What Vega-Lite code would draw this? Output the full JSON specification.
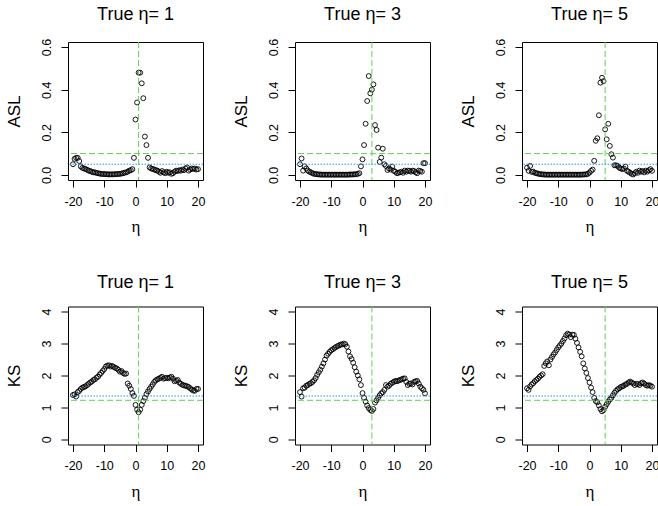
{
"$schema": "https://vega.github.io/schema/vega-lite/v6.json",
"padding": {"left": 4, "top": 5, "right": 0, "bottom": 4},
"background": "white",
"datasets": {
"d": [
{"t":1,"x":-20,"asl":0.05,"ks":1.39},{"t":1,"x":-19.5,"asl":0.075,"ks":1.41},{"t":1,"x":-19,"asl":0.08,"ks":1.34},{"t":1,"x":-18.5,"asl":0.08,"ks":1.48},{"t":1,"x":-18,"asl":0.065,"ks":1.52},{"t":1,"x":-17.5,"asl":0.04,"ks":1.58},{"t":1,"x":-17,"asl":0.033,"ks":1.62},{"t":1,"x":-16.5,"asl":0.03,"ks":1.64},{"t":1,"x":-16,"asl":0.028,"ks":1.66},{"t":1,"x":-15.5,"asl":0.024,"ks":1.70},{"t":1,"x":-15,"asl":0.02,"ks":1.74},{"t":1,"x":-14.5,"asl":0.018,"ks":1.78},{"t":1,"x":-14,"asl":0.015,"ks":1.81},{"t":1,"x":-13.5,"asl":0.012,"ks":1.86},{"t":1,"x":-13,"asl":0.012,"ks":1.88},{"t":1,"x":-12.5,"asl":0.009,"ks":1.93},{"t":1,"x":-12,"asl":0.008,"ks":1.96},{"t":1,"x":-11.5,"asl":0.006,"ks":2.03},{"t":1,"x":-11,"asl":0.005,"ks":2.08},{"t":1,"x":-10.5,"asl":0.004,"ks":2.14},{"t":1,"x":-10,"asl":0.004,"ks":2.20},{"t":1,"x":-9.5,"asl":0.003,"ks":2.28},{"t":1,"x":-9,"asl":0.003,"ks":2.31},{"t":1,"x":-8.5,"asl":0.002,"ks":2.32},{"t":1,"x":-8,"asl":0.003,"ks":2.28},{"t":1,"x":-7.5,"asl":0.002,"ks":2.30},{"t":1,"x":-7,"asl":0.003,"ks":2.27},{"t":1,"x":-6.5,"asl":0.003,"ks":2.24},{"t":1,"x":-6,"asl":0.004,"ks":2.22},{"t":1,"x":-5.5,"asl":0.004,"ks":2.18},{"t":1,"x":-5,"asl":0.005,"ks":2.12},{"t":1,"x":-4.5,"asl":0.006,"ks":2.14},{"t":1,"x":-4,"asl":0.008,"ks":2.08},{"t":1,"x":-3.5,"asl":0.01,"ks":2.05},{"t":1,"x":-3,"asl":0.012,"ks":2.06},{"t":1,"x":-2.5,"asl":0.015,"ks":1.75},{"t":1,"x":-2,"asl":0.02,"ks":1.68},{"t":1,"x":-1.5,"asl":0.022,"ks":1.58},{"t":1,"x":-1,"asl":0.027,"ks":1.45},{"t":1,"x":-0.5,"asl":0.08,"ks":1.36},{"t":1,"x":0,"asl":0.26,"ks":1.08},{"t":1,"x":0.5,"asl":0.34,"ks":0.93},{"t":1,"x":1,"asl":0.48,"ks":0.85},{"t":1,"x":1.5,"asl":0.48,"ks":0.93},{"t":1,"x":2,"asl":0.43,"ks":1.08},{"t":1,"x":2.5,"asl":0.36,"ks":1.20},{"t":1,"x":3,"asl":0.18,"ks":1.30},{"t":1,"x":3.5,"asl":0.14,"ks":1.42},{"t":1,"x":4,"asl":0.08,"ks":1.50},{"t":1,"x":4.5,"asl":0.035,"ks":1.58},{"t":1,"x":5,"asl":0.03,"ks":1.65},{"t":1,"x":5.5,"asl":0.028,"ks":1.72},{"t":1,"x":6,"asl":0.025,"ks":1.80},{"t":1,"x":6.5,"asl":0.022,"ks":1.85},{"t":1,"x":7,"asl":0.02,"ks":1.88},{"t":1,"x":7.5,"asl":0.015,"ks":1.90},{"t":1,"x":8,"asl":0.01,"ks":1.93},{"t":1,"x":8.5,"asl":0.018,"ks":1.96},{"t":1,"x":9,"asl":0.012,"ks":1.90},{"t":1,"x":9.5,"asl":0.008,"ks":1.92},{"t":1,"x":10,"asl":0.015,"ks":1.93},{"t":1,"x":10.5,"asl":0.01,"ks":1.91},{"t":1,"x":11,"asl":0.012,"ks":1.94},{"t":1,"x":11.5,"asl":0.005,"ks":1.96},{"t":1,"x":12,"asl":0.008,"ks":1.90},{"t":1,"x":12.5,"asl":0.015,"ks":1.82},{"t":1,"x":13,"asl":0.02,"ks":1.84},{"t":1,"x":13.5,"asl":0.018,"ks":1.86},{"t":1,"x":14,"asl":0.022,"ks":1.78},{"t":1,"x":14.5,"asl":0.02,"ks":1.74},{"t":1,"x":15,"asl":0.025,"ks":1.71},{"t":1,"x":15.5,"asl":0.022,"ks":1.69},{"t":1,"x":16,"asl":0.03,"ks":1.68},{"t":1,"x":16.5,"asl":0.035,"ks":1.66},{"t":1,"x":17,"asl":0.02,"ks":1.64},{"t":1,"x":17.5,"asl":0.025,"ks":1.60},{"t":1,"x":18,"asl":0.03,"ks":1.56},{"t":1,"x":18.5,"asl":0.028,"ks":1.53},{"t":1,"x":19,"asl":0.03,"ks":1.52},{"t":1,"x":19.5,"asl":0.025,"ks":1.58},{"t":1,"x":20,"asl":0.027,"ks":1.58},
{"t":3,"x":-20,"asl":0.05,"ks":1.48},{"t":3,"x":-19.5,"asl":0.077,"ks":1.34},{"t":3,"x":-19,"asl":0.02,"ks":1.60},{"t":3,"x":-18.5,"asl":0.04,"ks":1.62},{"t":3,"x":-18,"asl":0.03,"ks":1.68},{"t":3,"x":-17.5,"asl":0.02,"ks":1.70},{"t":3,"x":-17,"asl":0.015,"ks":1.74},{"t":3,"x":-16.5,"asl":0.012,"ks":1.76},{"t":3,"x":-16,"asl":0.008,"ks":1.80},{"t":3,"x":-15.5,"asl":0.005,"ks":1.85},{"t":3,"x":-15,"asl":0.004,"ks":1.92},{"t":3,"x":-14.5,"asl":0.003,"ks":2.02},{"t":3,"x":-14,"asl":0.002,"ks":2.10},{"t":3,"x":-13.5,"asl":0.002,"ks":2.18},{"t":3,"x":-13,"asl":0.001,"ks":2.28},{"t":3,"x":-12.5,"asl":0.001,"ks":2.38},{"t":3,"x":-12,"asl":0.001,"ks":2.50},{"t":3,"x":-11.5,"asl":0.001,"ks":2.62},{"t":3,"x":-11,"asl":0.001,"ks":2.68},{"t":3,"x":-10.5,"asl":0.001,"ks":2.74},{"t":3,"x":-10,"asl":0.001,"ks":2.79},{"t":3,"x":-9.5,"asl":0.001,"ks":2.82},{"t":3,"x":-9,"asl":0.001,"ks":2.86},{"t":3,"x":-8.5,"asl":0.001,"ks":2.89},{"t":3,"x":-8,"asl":0.001,"ks":2.92},{"t":3,"x":-7.5,"asl":0.001,"ks":2.94},{"t":3,"x":-7,"asl":0.001,"ks":2.97},{"t":3,"x":-6.5,"asl":0.001,"ks":2.97},{"t":3,"x":-6,"asl":0.001,"ks":3.00},{"t":3,"x":-5.5,"asl":0.001,"ks":2.98},{"t":3,"x":-5,"asl":0.001,"ks":2.90},{"t":3,"x":-4.5,"asl":0.001,"ks":2.75},{"t":3,"x":-4,"asl":0.002,"ks":2.60},{"t":3,"x":-3.5,"asl":0.002,"ks":2.52},{"t":3,"x":-3,"asl":0.002,"ks":2.40},{"t":3,"x":-2.5,"asl":0.003,"ks":2.26},{"t":3,"x":-2,"asl":0.003,"ks":2.12},{"t":3,"x":-1.5,"asl":0.005,"ks":2.00},{"t":3,"x":-1,"asl":0.008,"ks":1.88},{"t":3,"x":-0.5,"asl":0.04,"ks":1.70},{"t":3,"x":0,"asl":0.073,"ks":1.45},{"t":3,"x":0.5,"asl":0.14,"ks":1.30},{"t":3,"x":1,"asl":0.24,"ks":1.18},{"t":3,"x":1.5,"asl":0.347,"ks":1.06},{"t":3,"x":2,"asl":0.464,"ks":0.98},{"t":3,"x":2.5,"asl":0.383,"ks":0.92},{"t":3,"x":3,"asl":0.40,"ks":0.89},{"t":3,"x":3.5,"asl":0.425,"ks":0.95},{"t":3,"x":4,"asl":0.234,"ks":1.15},{"t":3,"x":4.5,"asl":0.211,"ks":1.22},{"t":3,"x":5,"asl":0.128,"ks":1.30},{"t":3,"x":5.5,"asl":0.061,"ks":1.38},{"t":3,"x":6,"asl":0.081,"ks":1.44},{"t":3,"x":6.5,"asl":0.123,"ks":1.48},{"t":3,"x":7,"asl":0.05,"ks":1.55},{"t":3,"x":7.5,"asl":0.042,"ks":1.70},{"t":3,"x":8,"asl":0.023,"ks":1.65},{"t":3,"x":8.5,"asl":0.03,"ks":1.68},{"t":3,"x":9,"asl":0.025,"ks":1.74},{"t":3,"x":9.5,"asl":0.039,"ks":1.77},{"t":3,"x":10,"asl":0.019,"ks":1.80},{"t":3,"x":10.5,"asl":0.015,"ks":1.83},{"t":3,"x":11,"asl":0.008,"ks":1.82},{"t":3,"x":11.5,"asl":0.01,"ks":1.84},{"t":3,"x":12,"asl":0.012,"ks":1.86},{"t":3,"x":12.5,"asl":0.015,"ks":1.88},{"t":3,"x":13,"asl":0.01,"ks":1.90},{"t":3,"x":13.5,"asl":0.02,"ks":1.91},{"t":3,"x":14,"asl":0.015,"ks":1.80},{"t":3,"x":14.5,"asl":0.02,"ks":1.70},{"t":3,"x":15,"asl":0.019,"ks":1.74},{"t":3,"x":15.5,"asl":0.015,"ks":1.75},{"t":3,"x":16,"asl":0.02,"ks":1.72},{"t":3,"x":16.5,"asl":0.018,"ks":1.80},{"t":3,"x":17,"asl":0.012,"ks":1.82},{"t":3,"x":17.5,"asl":0.008,"ks":1.83},{"t":3,"x":18,"asl":0.02,"ks":1.75},{"t":3,"x":18.5,"asl":0.018,"ks":1.65},{"t":3,"x":19,"asl":0.015,"ks":1.60},{"t":3,"x":19.5,"asl":0.055,"ks":1.55},{"t":3,"x":20,"asl":0.055,"ks":1.44},
{"t":5,"x":-20,"asl":0.034,"ks":1.60},{"t":5,"x":-19.5,"asl":0.019,"ks":1.55},{"t":5,"x":-19,"asl":0.042,"ks":1.66},{"t":5,"x":-18.5,"asl":0.014,"ks":1.72},{"t":5,"x":-18,"asl":0.015,"ks":1.76},{"t":5,"x":-17.5,"asl":0.01,"ks":1.82},{"t":5,"x":-17,"asl":0.008,"ks":1.86},{"t":5,"x":-16.5,"asl":0.006,"ks":1.90},{"t":5,"x":-16,"asl":0.004,"ks":1.96},{"t":5,"x":-15.5,"asl":0.003,"ks":2.00},{"t":5,"x":-15,"asl":0.002,"ks":2.04},{"t":5,"x":-14.5,"asl":0.002,"ks":2.30},{"t":5,"x":-14,"asl":0.001,"ks":2.38},{"t":5,"x":-13.5,"asl":0.001,"ks":2.44},{"t":5,"x":-13,"asl":0.001,"ks":2.32},{"t":5,"x":-12.5,"asl":0.001,"ks":2.50},{"t":5,"x":-12,"asl":0.001,"ks":2.58},{"t":5,"x":-11.5,"asl":0.001,"ks":2.66},{"t":5,"x":-11,"asl":0.001,"ks":2.72},{"t":5,"x":-10.5,"asl":0.001,"ks":2.80},{"t":5,"x":-10,"asl":0.001,"ks":2.88},{"t":5,"x":-9.5,"asl":0.001,"ks":2.94},{"t":5,"x":-9,"asl":0.001,"ks":3.00},{"t":5,"x":-8.5,"asl":0.001,"ks":3.08},{"t":5,"x":-8,"asl":0.001,"ks":3.16},{"t":5,"x":-7.5,"asl":0.001,"ks":3.26},{"t":5,"x":-7,"asl":0.001,"ks":3.31},{"t":5,"x":-6.5,"asl":0.001,"ks":3.28},{"t":5,"x":-6,"asl":0.001,"ks":3.20},{"t":5,"x":-5.5,"asl":0.001,"ks":3.28},{"t":5,"x":-5,"asl":0.001,"ks":3.27},{"t":5,"x":-4.5,"asl":0.001,"ks":3.15},{"t":5,"x":-4,"asl":0.001,"ks":3.02},{"t":5,"x":-3.5,"asl":0.001,"ks":2.88},{"t":5,"x":-3,"asl":0.001,"ks":2.74},{"t":5,"x":-2.5,"asl":0.001,"ks":2.60},{"t":5,"x":-2,"asl":0.002,"ks":2.38},{"t":5,"x":-1.5,"asl":0.002,"ks":2.22},{"t":5,"x":-1,"asl":0.003,"ks":2.08},{"t":5,"x":-0.5,"asl":0.005,"ks":1.92},{"t":5,"x":0,"asl":0.011,"ks":1.78},{"t":5,"x":0.5,"asl":0.019,"ks":1.62},{"t":5,"x":1,"asl":0.025,"ks":1.48},{"t":5,"x":1.5,"asl":0.066,"ks":1.30},{"t":5,"x":2,"asl":0.16,"ks":1.20},{"t":5,"x":2.5,"asl":0.172,"ks":1.16},{"t":5,"x":3,"asl":0.28,"ks":1.06},{"t":5,"x":3.5,"asl":0.433,"ks":0.95},{"t":5,"x":4,"asl":0.456,"ks":0.88},{"t":5,"x":4.5,"asl":0.44,"ks":0.92},{"t":5,"x":5,"asl":0.214,"ks":1.02},{"t":5,"x":5.5,"asl":0.167,"ks":1.10},{"t":5,"x":6,"asl":0.24,"ks":1.18},{"t":5,"x":6.5,"asl":0.136,"ks":1.25},{"t":5,"x":7,"asl":0.097,"ks":1.30},{"t":5,"x":7.5,"asl":0.081,"ks":1.38},{"t":5,"x":8,"asl":0.045,"ks":1.46},{"t":5,"x":8.5,"asl":0.045,"ks":1.52},{"t":5,"x":9,"asl":0.042,"ks":1.57},{"t":5,"x":9.5,"asl":0.034,"ks":1.60},{"t":5,"x":10,"asl":0.03,"ks":1.64},{"t":5,"x":10.5,"asl":0.027,"ks":1.66},{"t":5,"x":11,"asl":0.03,"ks":1.68},{"t":5,"x":11.5,"asl":0.039,"ks":1.72},{"t":5,"x":12,"asl":0.019,"ks":1.74},{"t":5,"x":12.5,"asl":0.015,"ks":1.78},{"t":5,"x":13,"asl":0.01,"ks":1.81},{"t":5,"x":13.5,"asl":0.005,"ks":1.78},{"t":5,"x":14,"asl":0.002,"ks":1.75},{"t":5,"x":14.5,"asl":0.008,"ks":1.70},{"t":5,"x":15,"asl":0.015,"ks":1.74},{"t":5,"x":15.5,"asl":0.01,"ks":1.73},{"t":5,"x":16,"asl":0.02,"ks":1.70},{"t":5,"x":16.5,"asl":0.015,"ks":1.76},{"t":5,"x":17,"asl":0.018,"ks":1.78},{"t":5,"x":17.5,"asl":0.012,"ks":1.75},{"t":5,"x":18,"asl":0.02,"ks":1.70},{"t":5,"x":18.5,"asl":0.015,"ks":1.68},{"t":5,"x":19,"asl":0.022,"ks":1.70},{"t":5,"x":19.5,"asl":0.027,"ks":1.68},{"t":5,"x":20,"asl":0.019,"ks":1.65}
],
"v": [{"t":1},{"t":3},{"t":5}],
"h": [{"stat":"asl","level":"a10","v":0.1},{"stat":"asl","level":"a05","v":0.05},{"stat":"ks","level":"a10","v":1.224},{"stat":"ks","level":"a05","v":1.358}]
},
"config": {
"font": "Liberation Sans",
"view": {"stroke": "black", "strokeWidth": 1},
"axis": {"domain": false, "grid": false, "tickCount": 10, "tickColor": "black", "tickSize": 7, "tickWidth": 1, "labelFont": "Liberation Sans", "labelFontSize": 12.5, "labelColor": "black", "labelPadding": 8, "labelFlush": false, "labelOverlap": false, "labelSeparation": 0, "titleFont": "Liberation Sans", "titleFontSize": 17, "titleFontWeight": "normal", "titleColor": "black"},
"axisY": {"labelAngle": 270, "labelAlign": "center", "labelBaseline": "bottom", "titlePadding": 17},
"axisX": {"titlePadding": 11, "titleFont": "Liberation Serif"},
"title": {"font": "Liberation Sans", "fontSize": 18, "fontWeight": "normal", "color": "black", "offset": 14, "baseline": "alphabetic", "anchor": "middle", "frame": "group"}
},
"columns": 3,
"bounds": "flush",
"spacing": {"row": 126.5, "column": 92},
"concat": [
{"title": "True η= 1", "width": 135, "height": 138, "layer": [
 {"data": {"name": "d"}, "transform": [{"filter": "datum.t == 1"}], "mark": {"type": "point", "shape": "circle", "filled": false, "stroke": "black", "strokeWidth": 0.9, "size": 24, "opacity": 1}, "encoding": {"x": {"field": "x", "type": "quantitative", "title": "η", "scale": {"domain": [-21.6, 21.6], "nice": false, "zero": false}, "axis": {"values": [-20, -10, 0, 10, 20], "tickCount": 10, "labelOverlap": false, "labelExpr": "'' + datum.value"}}, "y": {"field": "asl", "type": "quantitative", "title": "ASL", "scale": {"domain": [-0.024, 0.624], "nice": false, "zero": false}, "axis": {"values": [0, 0.2, 0.4, 0.6], "tickCount": 10, "labelOverlap": false, "labelExpr": "format(datum.value, '.1f')"}}}},
 {"data": {"name": "v"}, "transform": [{"filter": "datum.t == 1"}], "mark": {"type": "rule", "color": "#61D04F", "strokeDash": [6, 3], "strokeWidth": 1}, "encoding": {"x": {"field": "t", "type": "quantitative", "title": "η"}}},
 {"data": {"name": "h"}, "transform": [{"filter": "datum.stat == 'asl' && datum.level == 'a10'"}], "mark": {"type": "rule", "color": "#61D04F", "strokeDash": [6, 3], "strokeWidth": 1}, "encoding": {"y": {"field": "v", "type": "quantitative", "title": "ASL"}}},
 {"data": {"name": "h"}, "transform": [{"filter": "datum.stat == 'asl' && datum.level == 'a05'"}], "mark": {"type": "rule", "color": "#2297E6", "strokeDash": [1.5, 1.5], "strokeWidth": 1}, "encoding": {"y": {"field": "v", "type": "quantitative", "title": "ASL"}}}
]},
{"title": "True η= 3", "width": 135, "height": 138, "layer": [
 {"data": {"name": "d"}, "transform": [{"filter": "datum.t == 3"}], "mark": {"type": "point", "shape": "circle", "filled": false, "stroke": "black", "strokeWidth": 0.9, "size": 24, "opacity": 1}, "encoding": {"x": {"field": "x", "type": "quantitative", "title": "η", "scale": {"domain": [-21.6, 21.6], "nice": false, "zero": false}, "axis": {"values": [-20, -10, 0, 10, 20], "tickCount": 10, "labelOverlap": false, "labelExpr": "'' + datum.value"}}, "y": {"field": "asl", "type": "quantitative", "title": "ASL", "scale": {"domain": [-0.024, 0.624], "nice": false, "zero": false}, "axis": {"values": [0, 0.2, 0.4, 0.6], "tickCount": 10, "labelOverlap": false, "labelExpr": "format(datum.value, '.1f')"}}}},
 {"data": {"name": "v"}, "transform": [{"filter": "datum.t == 3"}], "mark": {"type": "rule", "color": "#61D04F", "strokeDash": [6, 3], "strokeWidth": 1}, "encoding": {"x": {"field": "t", "type": "quantitative", "title": "η"}}},
 {"data": {"name": "h"}, "transform": [{"filter": "datum.stat == 'asl' && datum.level == 'a10'"}], "mark": {"type": "rule", "color": "#61D04F", "strokeDash": [6, 3], "strokeWidth": 1}, "encoding": {"y": {"field": "v", "type": "quantitative", "title": "ASL"}}},
 {"data": {"name": "h"}, "transform": [{"filter": "datum.stat == 'asl' && datum.level == 'a05'"}], "mark": {"type": "rule", "color": "#2297E6", "strokeDash": [1.5, 1.5], "strokeWidth": 1}, "encoding": {"y": {"field": "v", "type": "quantitative", "title": "ASL"}}}
]},
{"title": "True η= 5", "width": 135, "height": 138, "layer": [
 {"data": {"name": "d"}, "transform": [{"filter": "datum.t == 5"}], "mark": {"type": "point", "shape": "circle", "filled": false, "stroke": "black", "strokeWidth": 0.9, "size": 24, "opacity": 1}, "encoding": {"x": {"field": "x", "type": "quantitative", "title": "η", "scale": {"domain": [-21.6, 21.6], "nice": false, "zero": false}, "axis": {"values": [-20, -10, 0, 10, 20], "tickCount": 10, "labelOverlap": false, "labelExpr": "'' + datum.value"}}, "y": {"field": "asl", "type": "quantitative", "title": "ASL", "scale": {"domain": [-0.024, 0.624], "nice": false, "zero": false}, "axis": {"values": [0, 0.2, 0.4, 0.6], "tickCount": 10, "labelOverlap": false, "labelExpr": "format(datum.value, '.1f')"}}}},
 {"data": {"name": "v"}, "transform": [{"filter": "datum.t == 5"}], "mark": {"type": "rule", "color": "#61D04F", "strokeDash": [6, 3], "strokeWidth": 1}, "encoding": {"x": {"field": "t", "type": "quantitative", "title": "η"}}},
 {"data": {"name": "h"}, "transform": [{"filter": "datum.stat == 'asl' && datum.level == 'a10'"}], "mark": {"type": "rule", "color": "#61D04F", "strokeDash": [6, 3], "strokeWidth": 1}, "encoding": {"y": {"field": "v", "type": "quantitative", "title": "ASL"}}},
 {"data": {"name": "h"}, "transform": [{"filter": "datum.stat == 'asl' && datum.level == 'a05'"}], "mark": {"type": "rule", "color": "#2297E6", "strokeDash": [1.5, 1.5], "strokeWidth": 1}, "encoding": {"y": {"field": "v", "type": "quantitative", "title": "ASL"}}}
]},
{"title": "True η= 1", "width": 135, "height": 138, "layer": [
 {"data": {"name": "d"}, "transform": [{"filter": "datum.t == 1"}], "mark": {"type": "point", "shape": "circle", "filled": false, "stroke": "black", "strokeWidth": 0.9, "size": 24, "opacity": 1}, "encoding": {"x": {"field": "x", "type": "quantitative", "title": "η", "scale": {"domain": [-21.6, 21.6], "nice": false, "zero": false}, "axis": {"values": [-20, -10, 0, 10, 20], "tickCount": 10, "labelOverlap": false, "labelExpr": "'' + datum.value"}}, "y": {"field": "ks", "type": "quantitative", "title": "KS", "scale": {"domain": [-0.16, 4.16], "nice": false, "zero": false}, "axis": {"values": [0, 1, 2, 3, 4], "tickCount": 10, "labelOverlap": false, "labelExpr": "'' + datum.value"}}}},
 {"data": {"name": "v"}, "transform": [{"filter": "datum.t == 1"}], "mark": {"type": "rule", "color": "#61D04F", "strokeDash": [6, 3], "strokeWidth": 1}, "encoding": {"x": {"field": "t", "type": "quantitative", "title": "η"}}},
 {"data": {"name": "h"}, "transform": [{"filter": "datum.stat == 'ks' && datum.level == 'a10'"}], "mark": {"type": "rule", "color": "#61D04F", "strokeDash": [6, 3], "strokeWidth": 1}, "encoding": {"y": {"field": "v", "type": "quantitative", "title": "KS"}}},
 {"data": {"name": "h"}, "transform": [{"filter": "datum.stat == 'ks' && datum.level == 'a05'"}], "mark": {"type": "rule", "color": "#2297E6", "strokeDash": [1.5, 1.5], "strokeWidth": 1}, "encoding": {"y": {"field": "v", "type": "quantitative", "title": "KS"}}}
]},
{"title": "True η= 3", "width": 135, "height": 138, "layer": [
 {"data": {"name": "d"}, "transform": [{"filter": "datum.t == 3"}], "mark": {"type": "point", "shape": "circle", "filled": false, "stroke": "black", "strokeWidth": 0.9, "size": 24, "opacity": 1}, "encoding": {"x": {"field": "x", "type": "quantitative", "title": "η", "scale": {"domain": [-21.6, 21.6], "nice": false, "zero": false}, "axis": {"values": [-20, -10, 0, 10, 20], "tickCount": 10, "labelOverlap": false, "labelExpr": "'' + datum.value"}}, "y": {"field": "ks", "type": "quantitative", "title": "KS", "scale": {"domain": [-0.16, 4.16], "nice": false, "zero": false}, "axis": {"values": [0, 1, 2, 3, 4], "tickCount": 10, "labelOverlap": false, "labelExpr": "'' + datum.value"}}}},
 {"data": {"name": "v"}, "transform": [{"filter": "datum.t == 3"}], "mark": {"type": "rule", "color": "#61D04F", "strokeDash": [6, 3], "strokeWidth": 1}, "encoding": {"x": {"field": "t", "type": "quantitative", "title": "η"}}},
 {"data": {"name": "h"}, "transform": [{"filter": "datum.stat == 'ks' && datum.level == 'a10'"}], "mark": {"type": "rule", "color": "#61D04F", "strokeDash": [6, 3], "strokeWidth": 1}, "encoding": {"y": {"field": "v", "type": "quantitative", "title": "KS"}}},
 {"data": {"name": "h"}, "transform": [{"filter": "datum.stat == 'ks' && datum.level == 'a05'"}], "mark": {"type": "rule", "color": "#2297E6", "strokeDash": [1.5, 1.5], "strokeWidth": 1}, "encoding": {"y": {"field": "v", "type": "quantitative", "title": "KS"}}}
]},
{"title": "True η= 5", "width": 135, "height": 138, "layer": [
 {"data": {"name": "d"}, "transform": [{"filter": "datum.t == 5"}], "mark": {"type": "point", "shape": "circle", "filled": false, "stroke": "black", "strokeWidth": 0.9, "size": 24, "opacity": 1}, "encoding": {"x": {"field": "x", "type": "quantitative", "title": "η", "scale": {"domain": [-21.6, 21.6], "nice": false, "zero": false}, "axis": {"values": [-20, -10, 0, 10, 20], "tickCount": 10, "labelOverlap": false, "labelExpr": "'' + datum.value"}}, "y": {"field": "ks", "type": "quantitative", "title": "KS", "scale": {"domain": [-0.16, 4.16], "nice": false, "zero": false}, "axis": {"values": [0, 1, 2, 3, 4], "tickCount": 10, "labelOverlap": false, "labelExpr": "'' + datum.value"}}}},
 {"data": {"name": "v"}, "transform": [{"filter": "datum.t == 5"}], "mark": {"type": "rule", "color": "#61D04F", "strokeDash": [6, 3], "strokeWidth": 1}, "encoding": {"x": {"field": "t", "type": "quantitative", "title": "η"}}},
 {"data": {"name": "h"}, "transform": [{"filter": "datum.stat == 'ks' && datum.level == 'a10'"}], "mark": {"type": "rule", "color": "#61D04F", "strokeDash": [6, 3], "strokeWidth": 1}, "encoding": {"y": {"field": "v", "type": "quantitative", "title": "KS"}}},
 {"data": {"name": "h"}, "transform": [{"filter": "datum.stat == 'ks' && datum.level == 'a05'"}], "mark": {"type": "rule", "color": "#2297E6", "strokeDash": [1.5, 1.5], "strokeWidth": 1}, "encoding": {"y": {"field": "v", "type": "quantitative", "title": "KS"}}}
]}
]
}
